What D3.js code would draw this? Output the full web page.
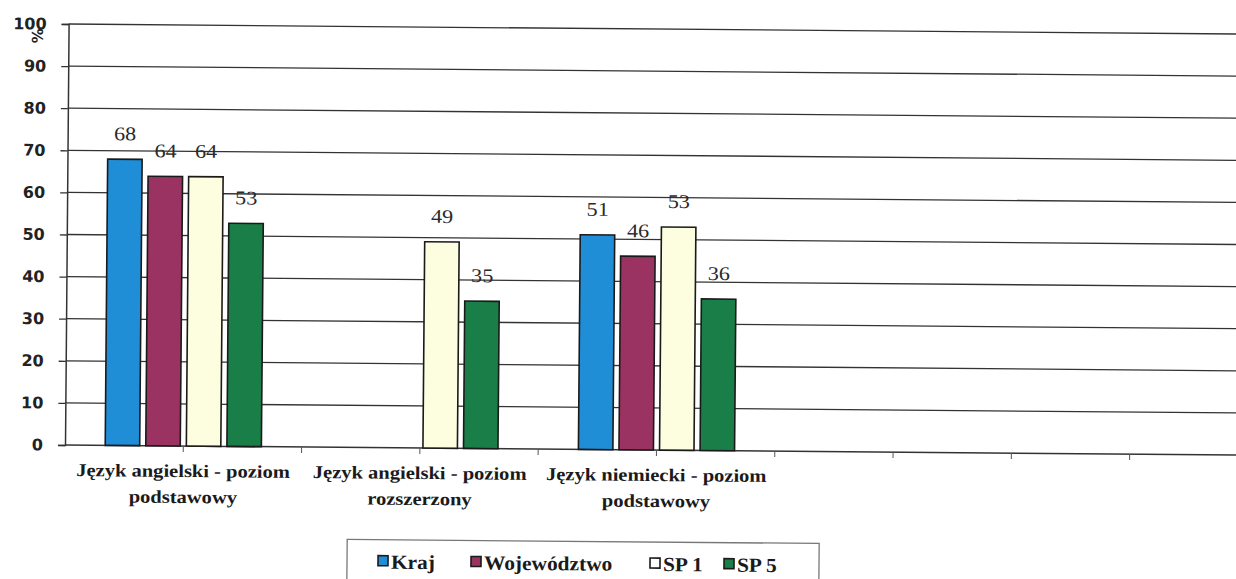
<!DOCTYPE html>
<html>
<head>
<meta charset="utf-8">
<script src="https://cdn.jsdelivr.net/npm/d3@7.9.0/dist/d3.min.js"></script>
<style>
  body { margin: 0; background: #fff; }
  svg { display: block; }
</style>
</head>
<body>
<div id="chart"></div>
<script>
// data
const categories = [
  ['Język angielski - poziom', 'podstawowy'],
  ['Język angielski - poziom', 'rozszerzony'],
  ['Język niemiecki - poziom', 'podstawowy'],
  [''],
  ['']
];
const seriesNames = ['Kraj', 'Województwo', 'SP 1', 'SP 5'];
const kraj = [68, null, 51, null, null];
const wojewodztwo = [64, null, 46, null, null];
const sp1 = [64, 49, 53, null, null];
const sp5 = [53, 35, 36, null, null];
const yTicks = [0, 10, 20, 30, 40, 50, 60, 70, 80, 90, 100];

const seriesValues = [kraj, wojewodztwo, sp1, sp5];
const colors = ['#1f8ed6', '#9a3362', '#fdfde0', '#197e47'];
const SERIF = '"Liberation Serif"';
const SANS = '"DejaVu Sans"';
const STRETCH = 1.14; // the scan is a bit wider than tall

const W = 1236, H = 579;
const plotLeft = 65, plotRight = 1248, plotTop = 24, plotBottom = 445;

const svg = d3.select('#chart').append('svg')
  .attr('width', W).attr('height', H);

// the scan is tilted a little clockwise
const g = svg.append('g').attr('transform', `rotate(0.49, ${plotLeft}, ${plotBottom})`);

const x = d3.scaleBand().domain(d3.range(categories.length)).range([plotLeft, plotRight]).paddingInner(0.34).paddingOuter(0.17);
const x1 = d3.scaleBand().domain(d3.range(seriesNames.length)).range([0, x.bandwidth()]).paddingInner(0.15);
const y = d3.scaleLinear().domain([0, 100]).range([plotBottom, plotTop]);

// gridlines
g.append('g').selectAll('line').data(yTicks.filter(d => d > 0)).join('line')
  .attr('x1', plotLeft).attr('x2', plotRight + 20)
  .attr('y1', d => y(d)).attr('y2', d => y(d))
  .attr('stroke', '#333').attr('stroke-width', 1.3);

// y axis
const yAxis = g.append('g').attr('transform', `translate(${plotLeft},0)`)
  .call(d3.axisLeft(y).tickValues(yTicks).tickSize(7).tickPadding(15));
yAxis.select('.domain').attr('stroke', '#333').attr('stroke-width', 1.5);
yAxis.selectAll('.tick line').attr('stroke', '#333').attr('stroke-width', 1.3);
yAxis.selectAll('.tick text')
  .style('font-family', SANS).style('font-weight', 'bold').style('font-size', '16px').attr('fill', '#222');

g.append('text')
  .attr('transform', `translate(33,36) rotate(90)`)
  .attr('text-anchor', 'middle').attr('dominant-baseline', 'middle')
  .style('font-family', SANS).style('font-weight', 'bold').style('font-size', '15px').attr('fill', '#222')
  .text('%');

// x axis line and ticks (every half category)
g.append('line').attr('x1', plotLeft).attr('x2', plotRight + 20).attr('y1', plotBottom).attr('y2', plotBottom)
  .attr('stroke', '#333').attr('stroke-width', 1.5);
const step = x.step();
g.append('g').selectAll('line').data(d3.range(1, categories.length * 2 + 1)).join('line')
  .attr('x1', d => plotLeft + d * step / 2).attr('x2', d => plotLeft + d * step / 2)
  .attr('y1', plotBottom).attr('y2', plotBottom + 6)
  .attr('stroke', '#555').attr('stroke-width', 1);

// bars
const bars = [];
seriesValues.forEach((vals, s) => vals.forEach((v, c) => { if (v != null) bars.push({ s, c, v }); }));

g.append('g').selectAll('rect').data(bars).join('rect')
  .attr('x', d => x(d.c) + x1(d.s))
  .attr('y', d => y(d.v))
  .attr('width', x1.bandwidth())
  .attr('height', d => plotBottom - y(d.v))
  .attr('fill', d => colors[d.s])
  .attr('stroke', '#1a1a1a').attr('stroke-width', 1.6);

// value labels
g.append('g').selectAll('g').data(bars).join('g')
  .attr('transform', d => `translate(${x(d.c) + x1(d.s) + x1.bandwidth() / 2},${y(d.v) - 19}) scale(${STRETCH},1)`)
  .append('text')
  .attr('text-anchor', 'middle')
  .style('font-family', SERIF).style('font-size', '19.5px').attr('fill', '#2a2a2a')
  .text(d => d.v);

// category labels
const cat = g.append('g').selectAll('g').data(categories).join('g')
  .attr('transform', (d, i) => `translate(${x(i) + x.bandwidth() / 2},${plotBottom + 31}) scale(${STRETCH},1)`)
  .append('text')
  .attr('text-anchor', 'middle')
  .style('font-family', SERIF).style('font-weight', 'bold').style('font-size', '18px').attr('fill', '#1a1a1a');
cat.selectAll('tspan').data(d => d).join('tspan')
  .attr('x', 0)
  .attr('dy', (d, j) => j === 0 ? 0 : 26)
  .text(d => d);

// legend
const lg = g.append('g');
lg.append('rect').attr('x', 348).attr('y', 537).attr('width', 472).attr('height', 60)
  .attr('fill', 'none').attr('stroke', '#777').attr('stroke-width', 1.3);
const legendX = [379, 472, 651, 725];
seriesNames.forEach((name, i) => {
  lg.append('rect').attr('x', legendX[i]).attr('y', 553).attr('width', 10).attr('height', 10)
    .attr('fill', colors[i] === '#fdfde0' ? '#fff' : colors[i])
    .attr('stroke', '#1a1a1a').attr('stroke-width', 1.6);
  lg.append('text')
    .attr('transform', `translate(${legendX[i] + 13},566) scale(1.07,1)`)
    .style('font-family', SERIF).style('font-weight', 'bold').style('font-size', '20px').attr('fill', '#1a1a1a')
    .text(name);
});
</script>
</body>
</html>
